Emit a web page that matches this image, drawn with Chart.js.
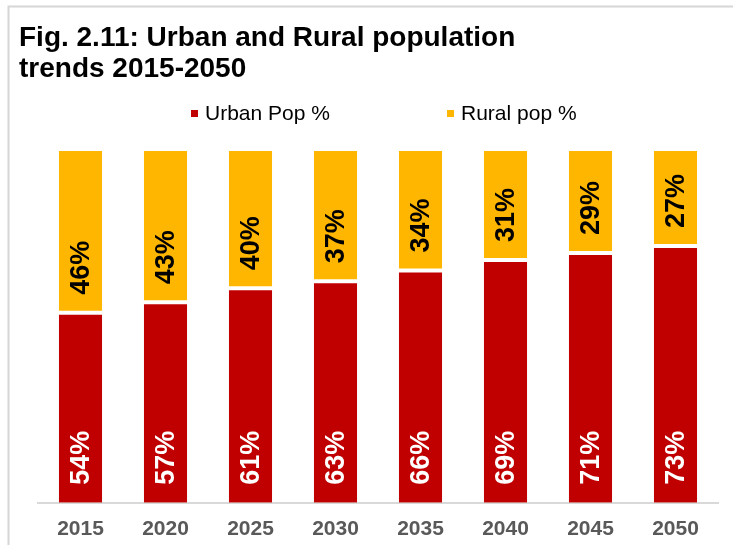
<!DOCTYPE html>
<html>
<head>
<meta charset="utf-8">
<script src="https://cdn.jsdelivr.net/npm/chart.js@4.4.1/dist/chart.umd.min.js"></script>
<style>
  html, body { margin: 0; padding: 0; background: #ffffff; }
  #wrap { position: relative; width: 733px; height: 545px; }
</style>
</head>
<body>
<div id="wrap"><canvas id="chart" width="733" height="545"></canvas></div>
<script>
// Urban / rural population shares, 2015-2050
const years = ['2015', '2020', '2025', '2030', '2035', '2040', '2045', '2050'];
const urbanPct = [54, 57, 61, 63, 66, 69, 71, 73];
const ruralPct = [46, 43, 40, 37, 34, 31, 29, 27];
const seriesNames = ['Urban Pop %', 'Rural pop %'];
const titleLines = ['Fig. 2.11: Urban and Rural population', 'trends 2015-2050'];

const FONT = '"Liberation Sans", Arial, Helvetica, sans-serif';
const URBAN_COLOR = '#C00000';
const RURAL_COLOR = '#FFB600';

// Frame, title and legend drawn around the plot
const decorations = {
  id: 'decorations',
  beforeDraw(chart) {
    const ctx = chart.ctx;
    ctx.save();
    ctx.strokeStyle = '#d6d6d6';
    ctx.lineWidth = 2;
    ctx.beginPath();
    ctx.moveTo(8.5, chart.height);
    ctx.lineTo(8.5, 6.5);
    ctx.lineTo(chart.width, 6.5);
    ctx.stroke();
    ctx.restore();
  },
  afterDraw(chart) {
    const ctx = chart.ctx;
    ctx.save();
    // title
    ctx.fillStyle = '#000000';
    ctx.font = 'bold 28px ' + FONT;
    ctx.textAlign = 'left';
    ctx.textBaseline = 'alphabetic';
    ctx.fillText(titleLines[0], 19, 46);
    ctx.fillText(titleLines[1], 19, 77);
    // legend
    const legendX = [191, 447];
    const legendY = 113.5;
    ctx.font = '21px ' + FONT;
    ctx.textBaseline = 'middle';
    chart.data.datasets.forEach((ds, i) => {
      ctx.fillStyle = ds.backgroundColor;
      ctx.fillRect(legendX[i], legendY - 3.5, 7, 7);
      ctx.fillStyle = '#000000';
      ctx.fillText(ds.label, legendX[i] + 14, legendY + 1);
    });
    ctx.restore();
  }
};

// Rotated value labels anchored near the base of each segment
const barLabels = {
  id: 'barLabels',
  afterDatasetsDraw(chart) {
    const ctx = chart.ctx;
    chart.data.datasets.forEach((ds, di) => {
      const meta = chart.getDatasetMeta(di);
      meta.data.forEach((bar, i) => {
        const p = bar.getProps(['x', 'base'], true);
        ctx.save();
        ctx.translate(p.x, p.base - 18);
        ctx.rotate(-Math.PI / 2);
        ctx.font = 'bold 27px ' + FONT;
        ctx.fillStyle = ds.labelColor;
        ctx.textAlign = 'left';
        ctx.textBaseline = 'middle';
        ctx.fillText(ds.data[i] + '%', 0, 1);
        ctx.restore();
      });
    });
  }
};

new Chart(document.getElementById('chart'), {
  type: 'bar',
  data: {
    labels: years,
    datasets: [
      {
        label: seriesNames[0],
        data: urbanPct,
        backgroundColor: URBAN_COLOR,
        borderColor: '#ffffff',
        borderWidth: { top: 2, left: 0, right: 0, bottom: 0 },
        borderSkipped: 'start',
        labelColor: '#ffffff',
        clip: 0
      },
      {
        label: seriesNames[1],
        data: ruralPct,
        backgroundColor: RURAL_COLOR,
        borderColor: '#ffffff',
        borderWidth: { top: 0, left: 0, right: 0, bottom: 2 },
        borderSkipped: false,
        labelColor: '#000000',
        clip: 0
      }
    ]
  },
  options: {
    responsive: false,
    devicePixelRatio: 1,
    animation: false,
    layout: { padding: { left: 38, right: 15, top: 151, bottom: -11 } },
    datasets: { bar: { barPercentage: 1, categoryPercentage: 0.51 } },
    scales: {
      x: {
        stacked: true,
        grid: { display: false, drawTicks: false },
        border: { display: true, color: '#d9d9d9', width: 2 },
        ticks: {
          color: '#595959',
          font: { family: FONT, size: 21, weight: 'bold' },
          padding: 14
        }
      },
      y: {
        stacked: true,
        display: false,
        min: 0,
        max: 100
      }
    },
    plugins: {
      legend: { display: false },
      title: { display: false },
      tooltip: { enabled: false }
    }
  },
  plugins: [decorations, barLabels]
});
</script>
</body>
</html>
